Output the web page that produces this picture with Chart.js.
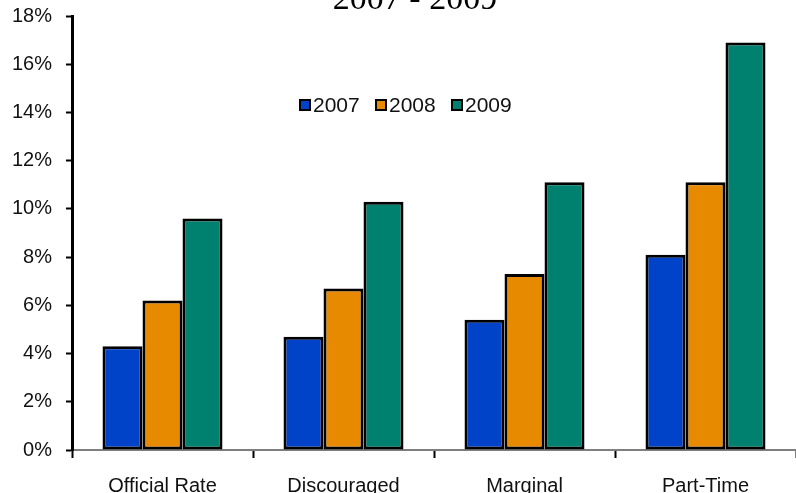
<!DOCTYPE html>
<html>
<head>
<meta charset="utf-8">
<script src="https://cdn.jsdelivr.net/npm/chart.js@4"></script>
<style>
  html, body { margin: 0; padding: 0; background: #fff; }
  #wrap { width: 796px; height: 493px; position: relative; }
</style>
</head>
<body>
<div id="wrap"><canvas id="chart"></canvas></div>
<script>
// 資料
const categories = ['Official Rate', 'Discouraged', 'Marginal', 'Part-Time'];
const years = ['2007', '2008', '2009'];
const values2007 = [4.3, 4.7, 5.4, 8.1];
const values2008 = [6.2, 6.7, 7.3, 11.1];
const values2009 = [9.6, 10.3, 11.1, 16.9];
const yTicks = [0, 2, 4, 6, 8, 10, 12, 14, 16, 18];
const titleText = '2007 - 2009';

const COLORS = ['#0043C8', '#E88A00', '#008170'];
const FONT = "'Liberation Sans', Arial, sans-serif";

// 標題（上方被裁切）
const titlePlugin = {
    id: 'cutTitle',
    afterDraw(chart) {
        const ctx = chart.ctx;
        ctx.save();
        ctx.font = "34px 'Liberation Serif', 'Times New Roman', serif";
        ctx.fillStyle = '#000';
        ctx.textAlign = 'center';
        ctx.textBaseline = 'alphabetic';
        ctx.fillText(titleText, 415, 9);
        ctx.restore();
    }
};

// 圖例畫在圖表區內
const innerLegend = {
    id: 'innerLegend',
    afterDraw(chart) {
        const ctx = chart.ctx;
        ctx.save();
        ctx.font = '21px ' + FONT;
        ctx.textBaseline = 'middle';
        let x = 300;
        const y = 105;
        chart.data.datasets.forEach(ds => {
            ctx.fillStyle = ds.backgroundColor;
            ctx.fillRect(x, y - 5, 10, 10);
            ctx.lineWidth = 2;
            ctx.strokeStyle = '#000';
            ctx.strokeRect(x, y - 5, 10, 10);
            ctx.fillStyle = '#111';
            ctx.fillText(ds.label, x + 13, y + 1);
            x += 76;
        });
        ctx.restore();
    }
};

const datasets = [values2007, values2008, values2009].map((vals, i) => ({
    label: years[i],
    data: vals,
    backgroundColor: COLORS[i],
    borderColor: '#000',
    borderWidth: 3,
    borderSkipped: false,
    categoryPercentage: 0.663,
    barPercentage: 1.0,
}));

new Chart(document.getElementById('chart'), {
    type: 'bar',
    data: { labels: categories, datasets },
    options: {
        responsive: true,
        maintainAspectRatio: false,
        animation: false,
        layout: { padding: { top: 16, right: 0, left: 0, bottom: 0 } },
        plugins: {
            legend: { display: false },
            title: { display: false },
            tooltip: { enabled: false },
        },
        scales: {
            x: {
                offset: true,
                grid: {
                    offset: true,
                    drawOnChartArea: false,
                    drawTicks: true,
                    tickLength: 8,
                    tickColor: '#000',
                    tickWidth: 2,
                },
                border: { display: true, color: '#7f7f7f', width: 2 },
                ticks: {
                    color: '#111',
                    font: { family: FONT, size: 20 },
                    padding: 16,
                    maxRotation: 0,
                },
                afterFit(scale) {
                    scale.height = 43;
                    scale.paddingLeft = 0;
                    scale.paddingRight = 0;
                },
            },
            y: {
                min: 0,
                max: 18,
                afterBuildTicks(scale) {
                    scale.ticks = yTicks.map(v => ({ value: v }));
                },
                grid: {
                    drawOnChartArea: false,
                    drawTicks: true,
                    tickLength: 6,
                    tickColor: '#000',
                    tickWidth: 2,
                },
                border: { display: true, color: '#000', width: 3 },
                ticks: {
                    color: '#111',
                    font: { family: FONT, size: 20 },
                    padding: 14,
                    callback: v => v + '%',
                },
                afterFit(scale) {
                    scale.width = 72;
                    scale.paddingTop = 0;
                    scale.paddingBottom = 0;
                },
            },
        },
    },
    plugins: [titlePlugin, innerLegend],
});
</script>
</body>
</html>
